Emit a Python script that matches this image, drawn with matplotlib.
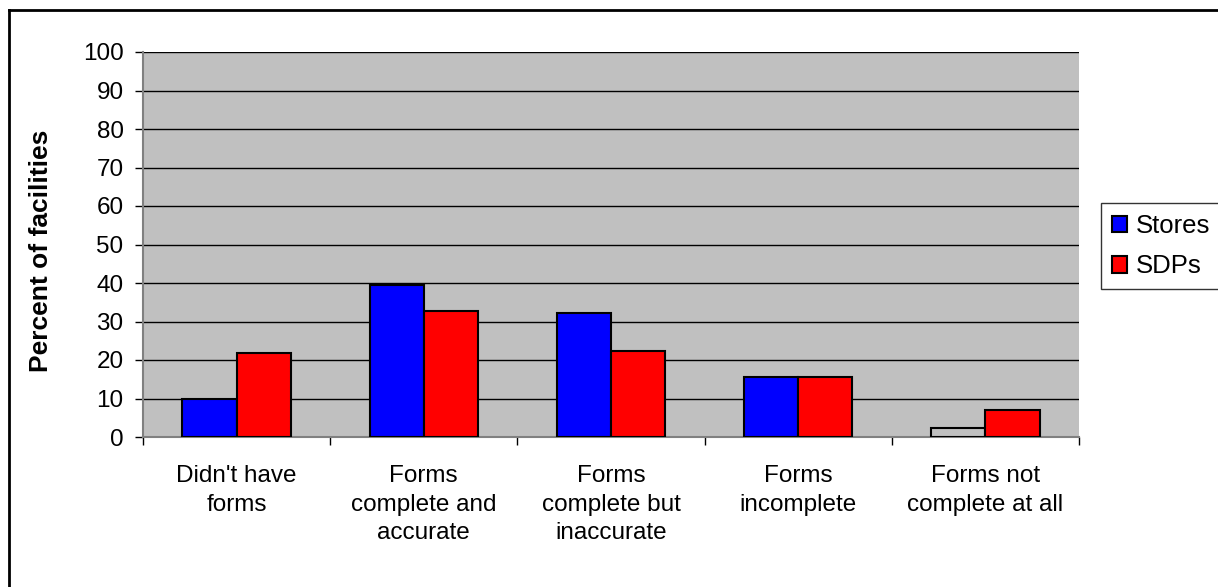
import matplotlib.pyplot as plt
import numpy as np
from matplotlib.lines import Line2D

plt.rcParams['font.family'] = ['Liberation Sans', 'DejaVu Sans']

# Data
categories = ["Didn't have\nforms", "Forms\ncomplete and\naccurate", "Forms\ncomplete but\ninaccurate",
              "Forms\nincomplete", "Forms not\ncomplete at all"]
stores = [9.8, 39.5, 32.1, 15.5, 2.4]
sdps = [21.7, 32.6, 22.3, 15.5, 7.1]

W, H = 1218, 587
fig = plt.figure(figsize=(W / 100, H / 100), dpi=100)
ax = fig.add_axes([143 / W, 1 - 437 / H, (1079 - 143) / W, (437 - 52) / H])

# Chart frame: only the top and left edges fall inside the image
fig.lines.append(Line2D([9 / W, 9 / W], [0, 1 - 10 / H], transform=fig.transFigure, color='black', linewidth=2))
fig.lines.append(Line2D([9 / W, 1], [1 - 10 / H, 1 - 10 / H], transform=fig.transFigure, color='black', linewidth=2))

x = np.arange(len(categories))
w = 0.29
store_colors = ['#0000FF'] * 4 + ['#C0C0C0']
ax.bar(x - w / 2, stores, width=w, color=store_colors, edgecolor='black', linewidth=1.5, label='Stores', zorder=3)
ax.bar(x + w / 2, sdps, width=w, color='#FF0000', edgecolor='black', linewidth=1.5, label='SDPs', zorder=3)

ax.set_facecolor('#C0C0C0')
ax.set_xlim(-0.5, len(categories) - 0.5)
ax.set_ylim(0, 100)
ax.set_yticks(np.arange(0, 101, 10))
ax.yaxis.grid(True, color='black', linewidth=1)
ax.set_axisbelow(True)

for side in ['top', 'right']:
    ax.spines[side].set_visible(False)
ax.spines['left'].set_color('#808080')
ax.spines['bottom'].set_color('#808080')
ax.spines['left'].set_linewidth(1.5)
ax.spines['bottom'].set_linewidth(1.5)

# Category ticks sit between the groups
ax.set_xticks(np.arange(-0.5, len(categories), 1.0))
ax.set_xticklabels([])
ax.set_xticks(x, minor=True)
ax.set_xticklabels(categories, minor=True, fontsize=17.5, linespacing=1.4)
ax.tick_params(axis='x', which='major', length=6, color='black', width=1)
ax.tick_params(axis='x', which='minor', length=0, pad=20)
ax.tick_params(axis='y', length=6, color='black', width=1, labelsize=17.5, pad=8)

ax.set_ylabel('Percent of facilities', fontsize=19, fontweight='bold')
ax.yaxis.set_label_coords((53 - 143) / 936, (437 - 251) / 385)

leg = ax.legend(loc='upper left', bbox_to_anchor=(1101 / W, 1 - 203 / H), bbox_transform=fig.transFigure,
                borderaxespad=0, fontsize=18.5, frameon=True, fancybox=False, edgecolor='black',
                handlelength=0.6, handleheight=0.6, handletextpad=0.35, borderpad=0.42, labelspacing=0.65)
leg.get_frame().set_linewidth(1)

plt.savefig('out.png', dpi=100)
